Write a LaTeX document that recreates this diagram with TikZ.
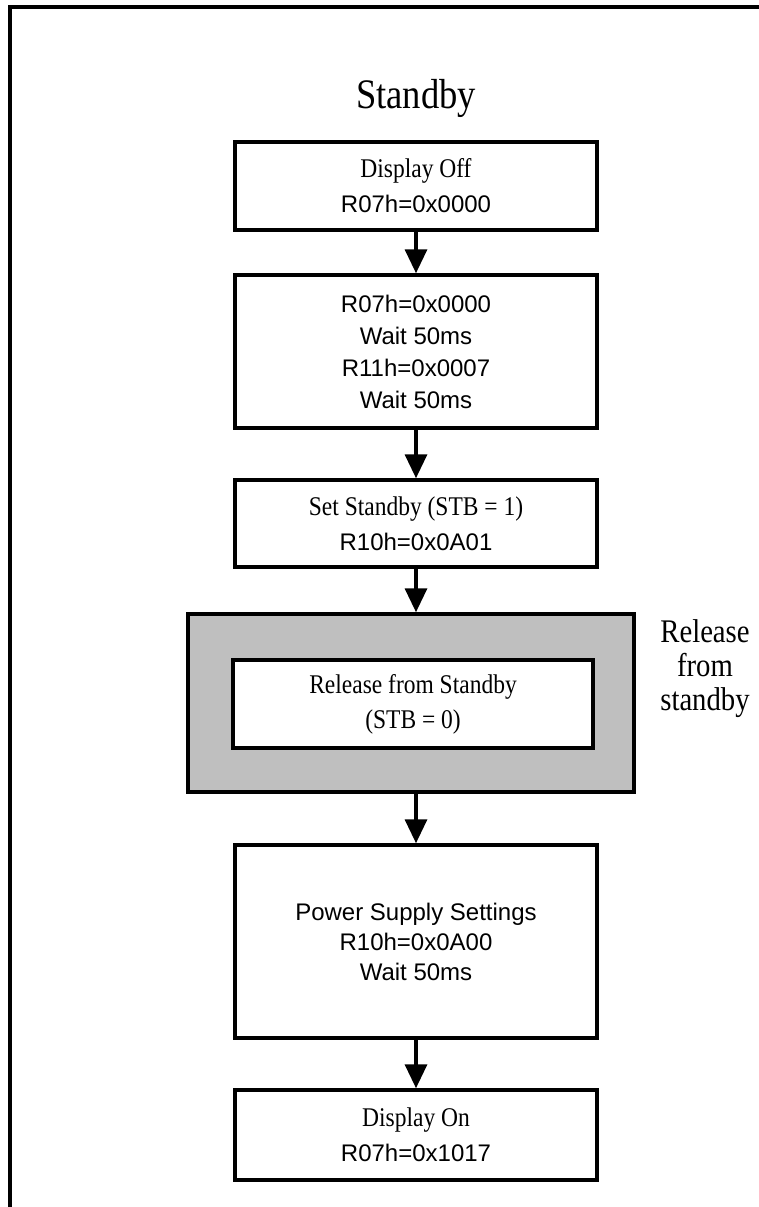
\documentclass[tikz,border=0pt]{standalone}
\usepackage{fontspec}
\setmainfont{Liberation Serif}
\newfontfamily\armfont{Liberation Sans}
\newfontfamily\ming[FakeStretch=0.87]{Liberation Serif}
\usetikzlibrary{arrows.meta}
\tikzset{
  stepbox/.style={draw,line width=3.5pt,minimum width=362pt,align=center,inner sep=0pt,
    font=\armfont\fontsize{24}{32}\selectfont},
  mixbox/.style={stepbox,font=\armfont\fontsize{24}{35}\selectfont},
  flow/.style={line width=3.5pt,-{Triangle[length=24pt,width=22pt]}},
}
\newcommand{\capt}[1]{{\ming\fontsize{27}{35}\selectfont #1}}
\begin{document}
\begin{tikzpicture}[x=1pt,y=-1pt]
    \useasboundingbox (0,0) rectangle (759,1207);
    \draw[line width=3.5pt] (10,1207) -- (10,7) -- (759,7);
    \node[font=\ming\fontsize{42}{44}\selectfont] (title) at (416,98) {Standby};
    \node[mixbox,minimum height=88pt] (off) at (416,186)
        {\capt{Display Off}\\R07h=0x0000};
    \node[stepbox,minimum height=153pt] (wait) at (416,351.5)
        {R07h=0x0000\\Wait 50ms\\R11h=0x0007\\Wait 50ms};
    \node[mixbox,minimum height=87pt] (stb) at (416,523.5)
        {\capt{Set Standby (STB = 1)}\\R10h=0x0A01};
    \node[draw,line width=3.5pt,fill=black!25,minimum width=446pt,minimum height=178pt] (gray) at (411,703) {};
    \node[stepbox,fill=white,minimum width=360pt,minimum height=88pt,
        font=\ming\fontsize{27}{35}\selectfont] (rel) at (413,704)
        {Release from Standby\\(STB = 0)};
    \node[align=center,font=\ming\fontsize{33}{34}\selectfont] (rellbl) at (705,669)
        {Release\\from\\standby};
    \node[stepbox,minimum height=193pt,font=\armfont\fontsize{24}{30}\selectfont] (pwr) at (416,941.5)
        {Power Supply Settings\\R10h=0x0A00\\Wait 50ms};
    \node[mixbox,minimum height=90pt] (on) at (416,1135)
        {\capt{Display On}\\R07h=0x1017};
    \draw[flow] (off) -- (wait);
    \draw[flow] (wait) -- (stb);
    \draw[flow] (stb.south) -- (stb.south |- gray.north);
    \draw[flow] (stb.south |- gray.south) -- (pwr.north);
    \draw[flow] (pwr) -- (on);
\end{tikzpicture}
\end{document}
